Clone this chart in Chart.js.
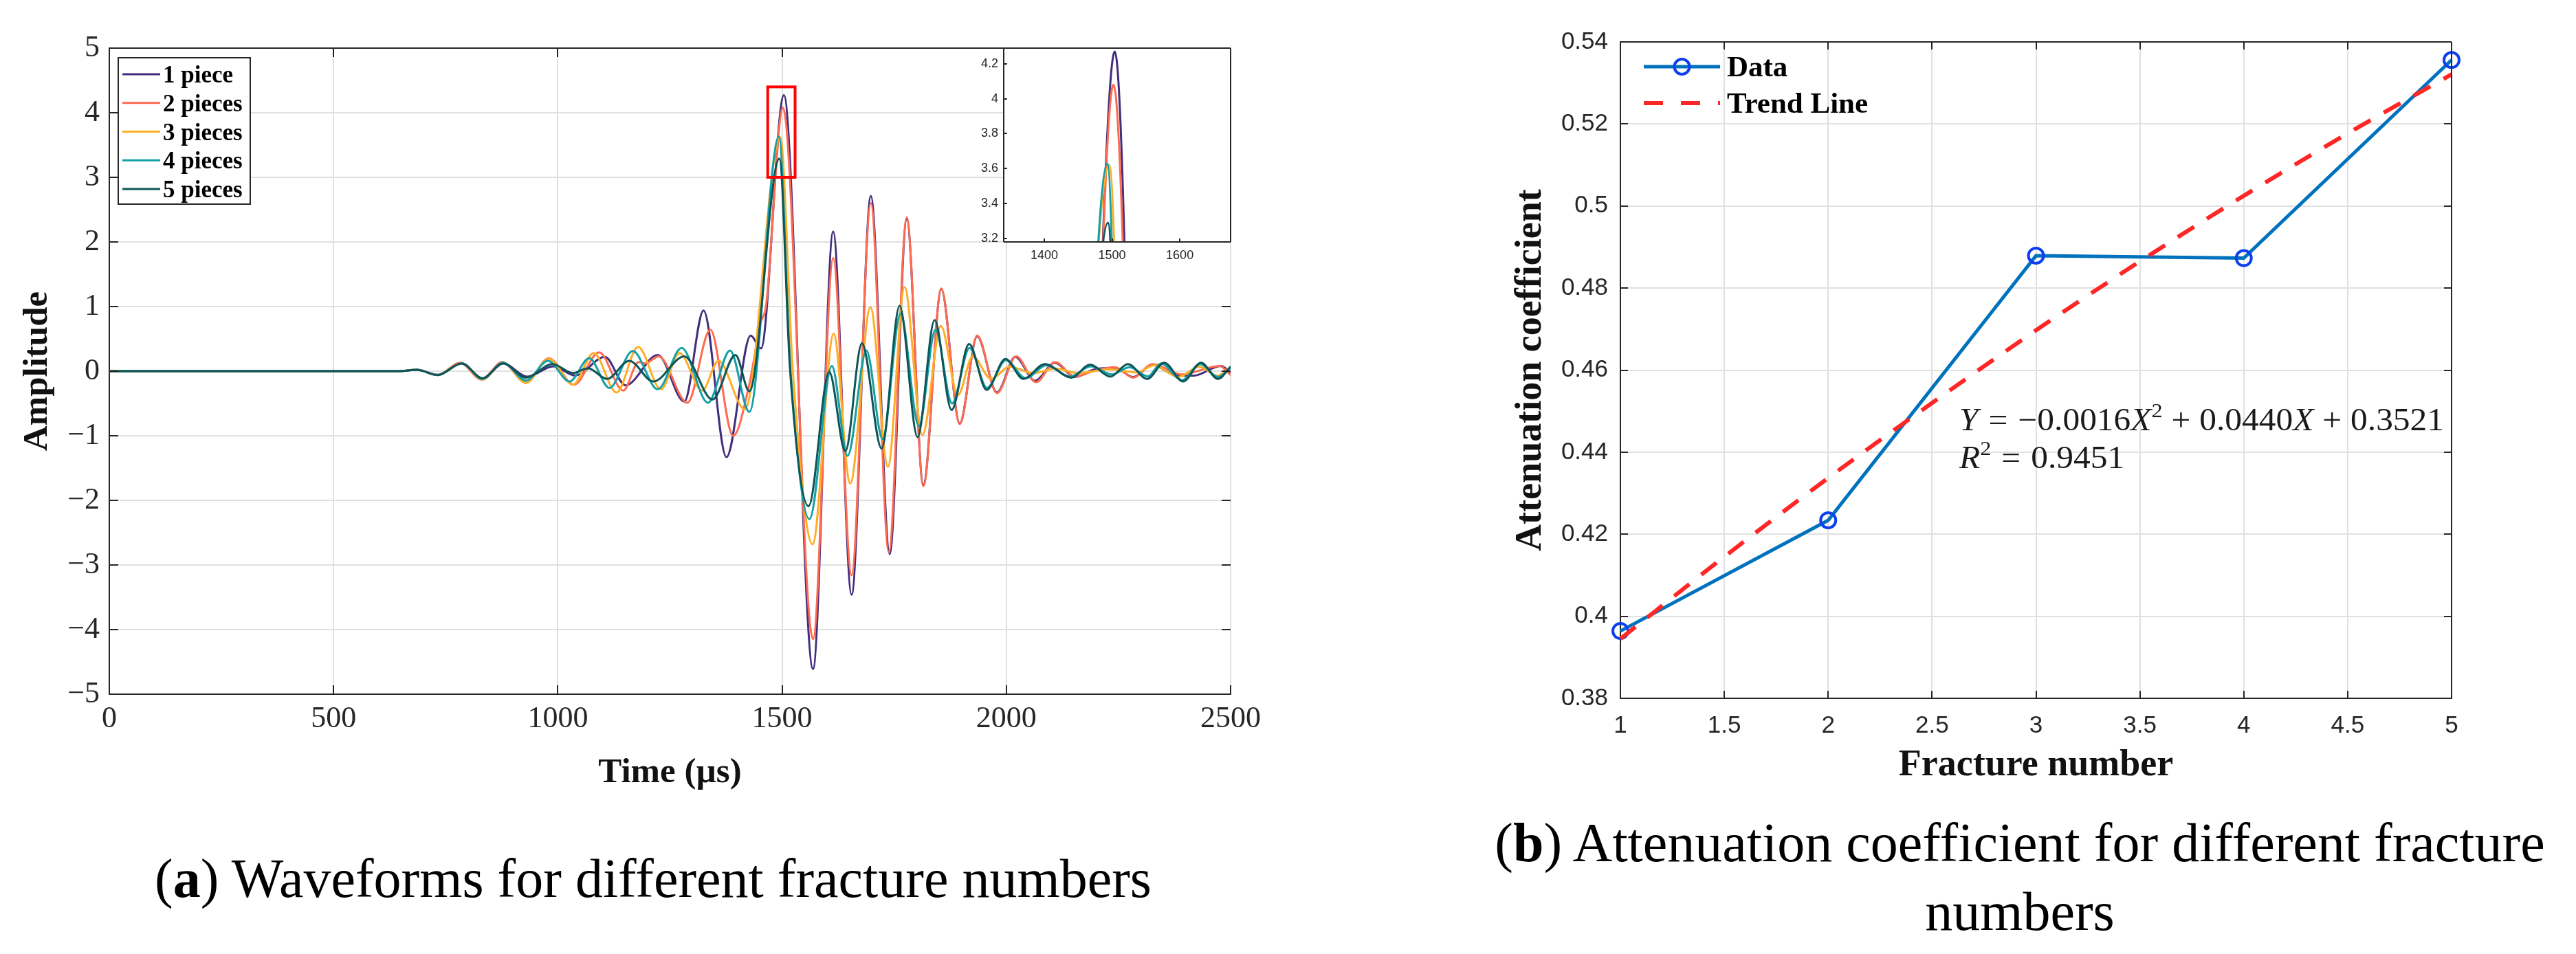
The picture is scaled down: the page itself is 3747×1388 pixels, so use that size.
<!DOCTYPE html>
<html>
<head>
<meta charset="utf-8">
<script src="https://cdn.jsdelivr.net/npm/chart.js@4.4.1/dist/chart.umd.min.js"></script>
<style>
html,body{margin:0;padding:0;background:#fff;width:3747px;height:1388px;overflow:hidden}
#wrap{position:relative;width:3747px;height:1388px;overflow:hidden}
canvas{position:absolute}
.cap{position:absolute;font-family:"Liberation Serif",serif;color:#000;white-space:nowrap;text-align:center;font-size:80px;line-height:100px}
</style>
</head>
<body>
<div id="wrap">
<canvas id="c1" width="1870" height="1388" style="left:0;top:0;width:1870px;height:1388px"></canvas>
<canvas id="c2" width="1647" height="1388" style="left:2100px;top:0;width:1647px;height:1388px"></canvas>
<canvas id="c3" width="430" height="350" style="left:1380px;top:50px;width:430px;height:350px"></canvas>
<div class="cap" style="left:0;top:1228px;width:1900px">(<b>a</b>) Waveforms for different fracture numbers</div>
<div class="cap" style="left:1966px;top:1176px;width:1944px">(<b>b</b>) Attenuation coefficient for different fracture<br>numbers</div>
</div>
<script>
// ---------------- data: waveforms (time µs, amplitude) ----------------
const seriesNames = ['1 piece', '2 pieces', '3 pieces', '4 pieces', '5 pieces'];
const seriesColors = ['#432d7d', '#ff6b50', '#ffad26', '#14a0a5', '#0d5558'];

const piece1 = [[0,0],[645,0],[686,0.02],[732,-0.057],[786,0.12],[832,-0.12],[878,0.12],[932,-0.085],[990,0.075],[1039,-0.067],[1105,0.22],[1151,-0.22],[1223,0.25],[1282,-0.47],[1325,0.94],[1376,-1.33],[1430,0.55],[1453,0.35],[1504,4.27],[1569,-4.61],[1614,2.16],[1655,-3.46],[1698,2.71],[1740,-2.83],[1778,2.36],[1815,-1.76],[1855,1.27],[1896,-0.81],[1935,0.54],[1979,-0.33],[2020,0.22],[2064,-0.15],[2108,0.13],[2153,-0.09],[2198,0.03],[2242,0.05],[2283,-0.09],[2326,0.1],[2372,-0.05],[2418,-0.07],[2478,0.08],[2500,-0.02]];
const piece2 = [[0,0],[645,0],[686,0.02],[732,-0.06],[782,0.13],[830,-0.13],[876,0.14],[929,-0.18],[980,0.2],[1036,-0.21],[1092,0.29],[1146,-0.3],[1180,0.14],[1195,0.12],[1225,0.23],[1289,-0.49],[1340,0.64],[1391,-1.0],[1427,-0.2],[1452,0.75],[1464,1.0],[1502,4.08],[1569,-4.15],[1614,1.75],[1655,-3.16],[1698,2.6],[1738,-2.8],[1778,2.38],[1815,-1.78],[1855,1.28],[1896,-0.82],[1935,0.55],[1979,-0.34],[2022,0.23],[2066,-0.17],[2109,0.14],[2153,-0.085],[2194,0.0],[2242,0.06],[2283,-0.1],[2326,0.11],[2390,-0.05],[2475,0.08],[2500,-0.06]];
const piece3 = [[0,0],[645,0],[686,0.02],[732,-0.06],[786,0.12],[832,-0.13],[878,0.13],[929,-0.18],[980,0.19],[1034,-0.21],[1080,0.28],[1131,-0.33],[1179,0.375],[1230,-0.28],[1271,0.28],[1322,-0.3],[1358,0.16],[1417,-0.59],[1496,3.62],[1524,0],[1568,-2.68],[1615,0.58],[1652,-1.74],[1697,0.99],[1736,-1.48],[1773,1.3],[1813,-0.99],[1854,0.7],[1892,-0.37],[1925,0.23],[1966,-0.12],[2007,0.07],[2060,-0.03],[2110,0.04],[2160,-0.03],[2230,0.03],[2290,-0.02],[2330,0.09],[2383,-0.09],[2430,0.07],[2470,-0.07],[2500,0.06]];
const piece4 = [[0,0],[645,0],[686,0.02],[732,-0.06],[786,0.12],[832,-0.12],[878,0.13],[929,-0.145],[978,0.16],[1026,-0.16],[1070,0.2],[1115,-0.26],[1167,0.31],[1223,-0.28],[1276,0.36],[1335,-0.49],[1384,0.32],[1427,-0.63],[1493,3.63],[1519,0],[1561,-2.29],[1611,0.08],[1646,-1.31],[1688,0.32],[1724,-1.05],[1764,0.89],[1805,-0.85],[1842,0.64],[1879,-0.5],[1918,0.36],[1957,-0.26],[1999,0.17],[2043,-0.11],[2089,0.09],[2142,-0.085],[2188,0.075],[2235,-0.05],[2275,0.06],[2316,-0.08],[2345,0.12],[2392,-0.14],[2432,0.11],[2472,-0.09],[2500,0.05]];
const piece5 = [[0,0],[645,0],[686,0.02],[732,-0.06],[786,0.12],[832,-0.11],[878,0.12],[929,-0.1],[988,0.11],[1034,-0.03],[1067,0.046],[1110,-0.12],[1159,0.16],[1213,-0.16],[1282,0.23],[1345,-0.44],[1396,0.25],[1427,-0.31],[1494,3.29],[1518,0],[1559,-2.09],[1605,-0.01],[1641,-1.24],[1678,0.43],[1722,-1.2],[1762,1.01],[1802,-1.02],[1840,0.79],[1878,-0.6],[1917,0.42],[1956,-0.29],[1998,0.19],[2038,-0.12],[2086,0.11],[2145,-0.1],[2187,0.1],[2232,-0.085],[2271,0.11],[2314,-0.12],[2352,0.13],[2394,-0.16],[2434,0.13],[2472,-0.12],[2500,0.07]];
const pieces = [piece1, piece2, piece3, piece4, piece5];

const timeTicks = [0, 500, 1000, 1500, 2000, 2500];
const ampTicks = [-5, -4, -3, -2, -1, 0, 1, 2, 3, 4, 5];
const insetTimeTicks = [1400, 1500, 1600];
const insetAmpTicks = [3.2, 3.4, 3.6, 3.8, 4.0, 4.2];
const insetRange = [1340, 1675, 3.18, 4.29];
const zoomBox = [1468, 1529, 3.0, 4.4];

// ---------------- data: attenuation ----------------
const fractureNumbers = [1, 2, 3, 4, 5];
const attenuation = [0.3964, 0.4234, 0.4879, 0.4873, 0.5356];
const trendX = [1, 1.5, 2, 2.5, 3, 3.5, 4, 4.5, 5];
const trendY = [0.3945, 0.4145, 0.4337, 0.4520, 0.4697, 0.4865, 0.5025, 0.5177, 0.5321];
const fracTicks = [1, 1.5, 2, 2.5, 3, 3.5, 4, 4.5, 5];
const attTicks = [0.38, 0.40, 0.42, 0.44, 0.46, 0.48, 0.50, 0.52, 0.54];
const legendNames = ['Data', 'Trend Line'];

// ---------------- helpers ----------------
const AX = '#262626';
const GRID = '#e0e0e0';
const minusFmt = v => (v < 0 ? '\u2212' + Math.abs(v) : String(v));
const setTicks = arr => ax => { ax.ticks = arr.map(v => ({ value: v })); };
const toXY = arr => arr.map(p => ({ x: p[0], y: p[1] }));

function waveDatasets(width) {
  return pieces.map((d, i) => ({
    label: seriesNames[i], data: toXY(d), borderColor: seriesColors[i],
    borderWidth: width, pointRadius: 0, fill: false,
    cubicInterpolationMode: 'monotone', order: pieces.length - 1 - i
  }));
}

function inwardTicks(chart, len, sides) {
  const { ctx, chartArea: a, scales: { x, y } } = chart;
  ctx.save();
  ctx.strokeStyle = AX; ctx.lineWidth = 2; ctx.beginPath();
  x.ticks.forEach(t => {
    const px = Math.round(x.getPixelForValue(t.value));
    if (sides.bottom) { ctx.moveTo(px, a.bottom); ctx.lineTo(px, a.bottom - len); }
    if (sides.top) { ctx.moveTo(px, a.top); ctx.lineTo(px, a.top + len); }
  });
  y.ticks.forEach(t => {
    const py = Math.round(y.getPixelForValue(t.value));
    if (sides.left) { ctx.moveTo(a.left, py); ctx.lineTo(a.left + len, py); }
    if (sides.right) { ctx.moveTo(a.right, py); ctx.lineTo(a.right - len, py); }
  });
  ctx.stroke();
  ctx.restore();
}

function frameLines(chart, sides) {
  const { ctx, chartArea: a } = chart;
  ctx.save(); ctx.strokeStyle = AX; ctx.lineWidth = 2; ctx.beginPath();
  if (sides.top) { ctx.moveTo(a.left, a.top); ctx.lineTo(a.right, a.top); }
  if (sides.right) { ctx.moveTo(a.right, a.top); ctx.lineTo(a.right, a.bottom); }
  if (sides.bottom) { ctx.moveTo(a.left, a.bottom); ctx.lineTo(a.right, a.bottom); }
  if (sides.left) { ctx.moveTo(a.left, a.top); ctx.lineTo(a.left, a.bottom); }
  ctx.stroke(); ctx.restore();
}

const baseOpts = { responsive: false, devicePixelRatio: 1, animation: false, events: [] };

// ---------------- chart (a) ----------------
const mainPlugin = {
  id: 'mainDecor',
  afterDraw(chart) {
    const { ctx, chartArea: a, scales: { x, y } } = chart;
    frameLines(chart, { top: true });
    inwardTicks(chart, 13, { top: true, bottom: true, left: true, right: true });
    // zoom rectangle
    const x0 = x.getPixelForValue(zoomBox[0]), x1 = x.getPixelForValue(zoomBox[1]);
    const y0 = y.getPixelForValue(zoomBox[3]), y1 = y.getPixelForValue(zoomBox[2]);
    ctx.save(); ctx.strokeStyle = '#ff0000'; ctx.lineWidth = 4;
    ctx.strokeRect(x0, y0, x1 - x0, y1 - y0); ctx.restore();
    // legend
    const bx = a.left + 13, by = a.top + 14, bw = 192, bh = 213;
    ctx.save();
    ctx.fillStyle = '#fff'; ctx.fillRect(bx, by, bw, bh);
    ctx.strokeStyle = AX; ctx.lineWidth = 2; ctx.strokeRect(bx, by, bw, bh);
    ctx.font = 'bold 35px "Liberation Serif"'; ctx.textBaseline = 'alphabetic'; ctx.fillStyle = '#000';
    seriesNames.forEach((n, i) => {
      const yy = by + 24 + i * 41.75;
      ctx.strokeStyle = seriesColors[i]; ctx.lineWidth = 3;
      ctx.beginPath(); ctx.moveTo(bx + 6, yy); ctx.lineTo(bx + 61, yy); ctx.stroke();
      ctx.fillText(n, bx + 65, yy + 12);
    });
    ctx.restore();
  }
};

new Chart(document.getElementById('c1'), {
  type: 'line',
  data: { datasets: waveDatasets(3) },
  options: Object.assign({}, baseOpts, {
    layout: { padding: { left: 0, right: 80, top: 70, bottom: 233 } },
    plugins: { legend: { display: false }, tooltip: { enabled: false } },
    scales: {
      x: {
        type: 'linear', min: 0, max: 2500,
        afterBuildTicks: setTicks(timeTicks),
        afterFit: ax => { ax.height = 145; },
        grid: { color: GRID, lineWidth: 2, drawTicks: false },
        border: { display: true, color: AX, width: 2 },
        ticks: { padding: 10, color: AX, autoSkip: false, maxRotation: 0, font: { family: 'Liberation Serif', size: 44 }, callback: v => minusFmt(v) },
        title: { display: true, text: 'Time (\u00b5s)', color: '#111', padding: { top: 0, bottom: 0 }, font: { family: 'Liberation Serif', size: 51, weight: 'bold' } }
      },
      y: {
        type: 'linear', min: -5, max: 5,
        afterBuildTicks: setTicks(ampTicks),
        afterFit: ax => { ax.width = 159; },
        grid: { color: GRID, lineWidth: 2, drawTicks: false },
        border: { display: true, color: AX, width: 2 },
        ticks: { padding: 14, color: AX, autoSkip: false, font: { family: 'Liberation Serif', size: 44 }, callback: v => minusFmt(v) },
        title: { display: true, text: 'Amplitude', color: '#111', padding: { top: 24, bottom: 0 }, font: { family: 'Liberation Serif', size: 51, weight: 'bold' } }
      }
    }
  }),
  plugins: [mainPlugin]
});

// ---------------- inset ----------------
const insetPlugin = {
  id: 'insetDecor',
  beforeDraw(chart) {
    const { ctx, chartArea: a } = chart;
    ctx.save(); ctx.fillStyle = '#fff'; ctx.fillRect(a.left, a.top, a.right - a.left, a.bottom - a.top); ctx.restore();
  },
  afterDraw(chart) {
    frameLines(chart, { top: true, right: true, bottom: true, left: true });
    inwardTicks(chart, 5, { bottom: true, left: true });
  }
};

new Chart(document.getElementById('c3'), {
  type: 'line',
  data: { datasets: waveDatasets(3) },
  options: Object.assign({}, baseOpts, {
    layout: { padding: { left: 0, right: 20, top: 20, bottom: 8 } },
    plugins: { legend: { display: false }, tooltip: { enabled: false } },
    scales: {
      x: {
        type: 'linear', min: insetRange[0], max: insetRange[1],
        afterBuildTicks: setTicks(insetTimeTicks),
        afterFit: ax => { ax.height = 40; },
        grid: { display: false, drawTicks: false }, border: { display: false },
        ticks: { padding: 9, color: AX, autoSkip: false, maxRotation: 0, font: { family: 'Liberation Sans', size: 18 }, callback: v => String(v) }
      },
      y: {
        type: 'linear', min: insetRange[2], max: insetRange[3],
        afterBuildTicks: setTicks(insetAmpTicks),
        afterFit: ax => { ax.width = 80; },
        grid: { display: false, drawTicks: false }, border: { display: false },
        ticks: { padding: 8, color: AX, autoSkip: false, font: { family: 'Liberation Sans', size: 18 }, callback: v => String(+v.toFixed(1)) }
      }
    }
  }),
  plugins: [insetPlugin]
});

// ---------------- chart (b) ----------------
const EQ_SIZE = 46;
const eqLine1 = [{ t: 'Y', it: 1 }, { t: '=', pre: 14, post: 14 }, { t: '\u22120.0016' }, { t: 'X', it: 1 }, { t: '2', sup: 1 }, { t: '+', pre: 12, post: 12 }, { t: '0.0440' }, { t: 'X', it: 1 }, { t: '+', pre: 12, post: 12 }, { t: '0.3521' }];
const eqLine2 = [{ t: 'R', it: 1 }, { t: '2', sup: 1 }, { t: '=', pre: 14, post: 14 }, { t: '0.9451' }];

function runFont(r) { return (r.it ? 'italic ' : '') + (r.sup ? Math.round(EQ_SIZE * 0.66) : EQ_SIZE) + 'px "Liberation Serif"'; }
function measureRuns(ctx, runs) {
  let w = 0;
  runs.forEach(r => { ctx.font = runFont(r); w += (r.pre || 0) + ctx.measureText(r.t).width + (r.post || 0); });
  return w;
}
function drawRuns(ctx, x, y, runs, sx) {
  ctx.save(); ctx.translate(x, y); ctx.scale(sx, 1);
  ctx.textBaseline = 'alphabetic'; ctx.fillStyle = '#1a1a1a';
  let cx = 0;
  runs.forEach(r => {
    ctx.font = runFont(r);
    cx += r.pre || 0;
    ctx.fillText(r.t, cx, r.sup ? -EQ_SIZE * 0.42 : 0);
    cx += ctx.measureText(r.t).width + (r.post || 0);
  });
  ctx.restore();
}

const attPlugin = {
  id: 'attDecor',
  afterDraw(chart) {
    const { ctx, chartArea: a } = chart;
    frameLines(chart, { top: true, right: true });
    inwardTicks(chart, 11, { top: true, bottom: true, left: true, right: true });
    // equation
    const sx = 705 / measureRuns(ctx, eqLine1);
    drawRuns(ctx, a.left + 493, a.top + 565, eqLine1, sx);
    drawRuns(ctx, a.left + 493, a.top + 620, eqLine2, sx);
    // legend
    const lx0 = a.left + 34, lx1 = a.left + 145, tx = a.left + 155;
    const y1 = a.top + 36, y2 = a.top + 89;
    ctx.save();
    ctx.lineCap = 'butt';
    ctx.strokeStyle = '#0072bd'; ctx.lineWidth = 5;
    ctx.beginPath(); ctx.moveTo(lx0, y1); ctx.lineTo(lx1, y1); ctx.stroke();
    ctx.strokeStyle = '#0b3ff0'; ctx.lineWidth = 4;
    ctx.beginPath(); ctx.arc((lx0 + lx1) / 2, y1, 11, 0, Math.PI * 2); ctx.stroke();
    ctx.strokeStyle = '#ff2626'; ctx.lineWidth = 6; ctx.setLineDash([28, 26]);
    ctx.beginPath(); ctx.moveTo(lx0, y2); ctx.lineTo(lx1, y2); ctx.stroke();
    ctx.setLineDash([]);
    ctx.font = 'bold 43px "Liberation Serif"'; ctx.fillStyle = '#000'; ctx.textBaseline = 'alphabetic';
    ctx.fillText(legendNames[0], tx, y1 + 14);
    ctx.fillText(legendNames[1], tx, y2 + 14);
    ctx.restore();
  }
};

new Chart(document.getElementById('c2'), {
  type: 'line',
  data: {
    datasets: [
      {
        label: legendNames[0], data: fractureNumbers.map((x, i) => ({ x, y: attenuation[i] })),
        borderColor: '#0072bd', borderWidth: 5, tension: 0, clip: false,
        pointRadius: 11, pointBorderWidth: 4, pointBorderColor: '#0b3ff0', pointBackgroundColor: 'rgba(0,0,0,0)', order: 1
      },
      {
        label: legendNames[1], data: trendX.map((x, i) => ({ x, y: trendY[i] })),
        borderColor: '#ff2626', borderWidth: 6, borderDash: [28, 22], pointRadius: 0, clip: false,
        cubicInterpolationMode: 'monotone', order: 0
      }
    ]
  },
  options: Object.assign({}, baseOpts, {
    layout: { padding: { left: 0, right: 181, top: 61, bottom: 242 } },
    plugins: { legend: { display: false }, tooltip: { enabled: false } },
    scales: {
      x: {
        type: 'linear', min: 1, max: 5,
        afterBuildTicks: setTicks(fracTicks),
        afterFit: ax => { ax.height = 130; },
        grid: { color: GRID, lineWidth: 2, drawTicks: false },
        border: { display: true, color: AX, width: 2 },
        ticks: { padding: 19, color: AX, autoSkip: false, maxRotation: 0, font: { family: 'Liberation Sans', size: 35 }, callback: v => String(+v.toFixed(1)) },
        title: { display: true, text: 'Fracture number', color: '#111', padding: { top: 0, bottom: 0 }, font: { family: 'Liberation Serif', size: 54, weight: 'bold' } }
      },
      y: {
        type: 'linear', min: 0.38, max: 0.54,
        afterBuildTicks: setTicks(attTicks),
        afterFit: ax => { ax.width = 257; },
        grid: { color: GRID, lineWidth: 2, drawTicks: false },
        border: { display: true, color: AX, width: 2 },
        ticks: { padding: 18, color: AX, autoSkip: false, font: { family: 'Liberation Sans', size: 35 }, callback: v => String(+v.toFixed(2)) },
        title: { display: true, text: 'Attenuation coefficient', color: '#111', padding: { top: 95, bottom: 0 }, font: { family: 'Liberation Serif', size: 54, weight: 'bold' } }
      }
    }
  }),
  plugins: [attPlugin]
});
</script>
</body>
</html>
